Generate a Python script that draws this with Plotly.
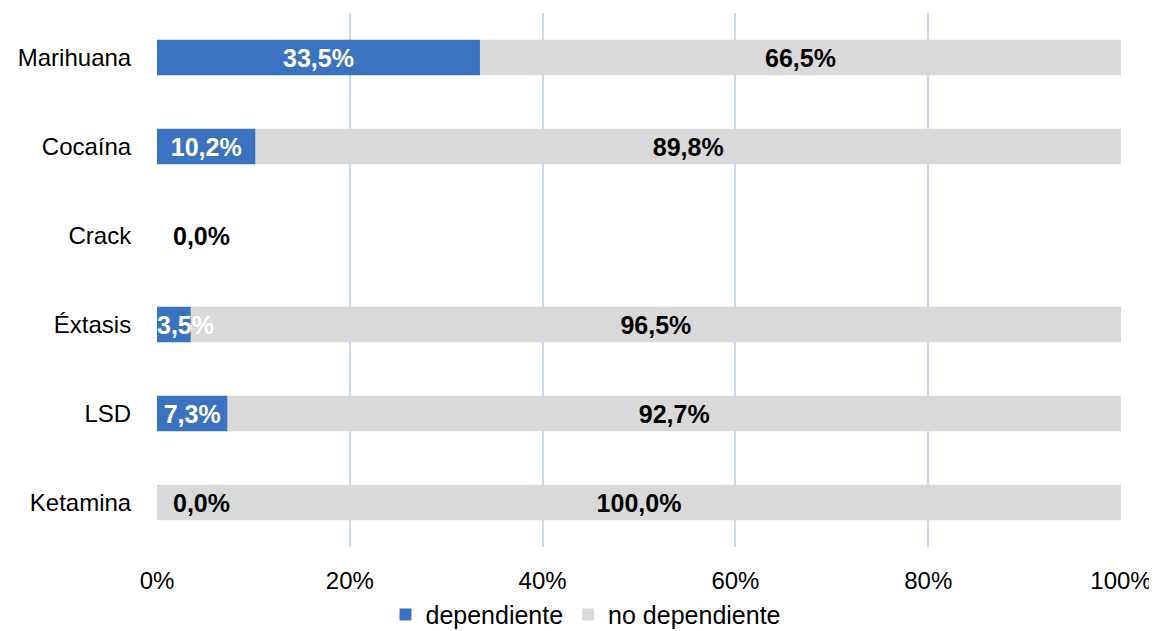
import plotly.graph_objects as go

# data (percent)
categories = ["Marihuana", "Cocaína", "Crack", "Éxtasis", "LSD", "Ketamina"]
dependiente = [33.5, 10.2, 0.0, 3.5, 7.3, 0.0]
no_dependiente = [66.5, 89.8, 0.0, 96.5, 92.7, 100.0]
x_ticks = [0, 20, 40, 60, 80, 100]
x_tick_labels = ["0%", "20%", "40%", "60%", "80%", "100%"]

BLUE = "#3a74c0"
GREY = "#d9d9d9"
FONT = "Liberation Sans"


def pct(v):
    return f"{v:.1f}%".replace(".", ",")


fig = go.Figure()

# grey segment first (overlay, starts where the blue ends) so blue labels stay on top
fig.add_trace(go.Bar(
    y=categories,
    x=no_dependiente,
    base=dependiente,
    orientation="h",
    name="no dependiente",
    marker=dict(color=GREY, line=dict(width=0)),
    text=[pct(v) if v > 0 else "" for v in no_dependiente],
    textposition="inside",
    insidetextanchor="middle",
    textangle=0,
    constraintext="none",
    textfont=dict(family=FONT, size=25, color="black", weight="bold"),
    legendrank=2,
))

# labels of very short bars are placed separately (start of bar)
fig.add_trace(go.Bar(
    y=categories,
    x=dependiente,
    orientation="h",
    name="dependiente",
    marker=dict(color=BLUE, line=dict(width=0)),
    text=[pct(v) if v >= 5 else "" for v in dependiente],
    textposition="inside",
    insidetextanchor="middle",
    textangle=0,
    constraintext="none",
    textfont=dict(family=FONT, size=25, color="white", weight="bold"),
    legendrank=1,
))

for cat, v in zip(categories, dependiente):
    if v < 5:
        fig.add_annotation(
            x=0, y=cat, xref="x", yref="y",
            text=pct(v), showarrow=False,
            xanchor="left", xshift=14 if v == 0 else -2,
            font=dict(family=FONT, size=25, weight="bold",
                      color="black" if v == 0 else "white"),
        )

fig.update_layout(
    width=1149, height=623,
    autosize=False,
    barmode="overlay",
    bargap=0.6,
    plot_bgcolor="white",
    paper_bgcolor="white",
    font=dict(family=FONT, size=24, color="black"),
    margin=dict(l=149, r=36, t=5, b=84, autoexpand=False),
    legend=dict(
        orientation="h",
        x=0.445, xanchor="center",
        y=-0.127, yanchor="middle",
        font=dict(family=FONT, size=25),
        traceorder="normal",
    ),
    xaxis=dict(
        range=[0, 100],
        tickvals=x_ticks,
        ticktext=x_tick_labels,
        showgrid=True,
        gridcolor="#c9dbf0",
        gridwidth=1.5,
        zeroline=False,
        showline=False,
        ticks="outside",
        ticklen=12,
        tickcolor="white",
    ),
    yaxis=dict(
        categoryorder="array",
        categoryarray=categories,
        autorange="reversed",
        showgrid=False,
        zeroline=False,
        showline=False,
        ticks="outside",
        ticklen=20,
        tickcolor="white",
    ),
)

fig.write_html("out.html")
